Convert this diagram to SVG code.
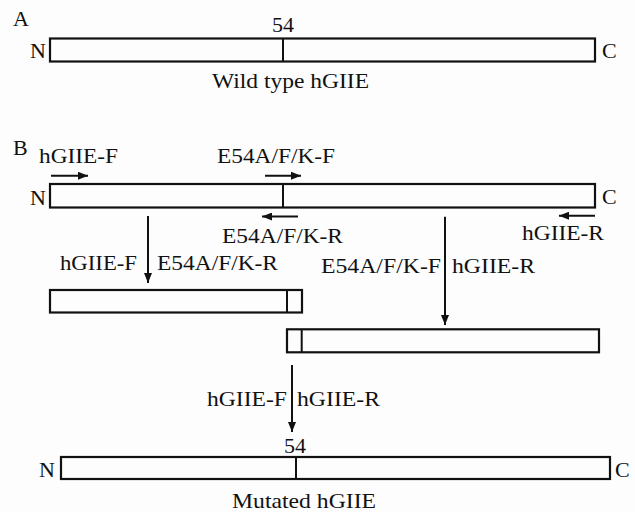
<svg xmlns="http://www.w3.org/2000/svg" width="635" height="512" viewBox="0 0 635 512">
<style>
text{font-family:"Liberation Serif","Times New Roman",serif;font-size:22px;fill:#111}
.bar{fill:#fdfdfd;stroke:#111;stroke-width:2.2}
.div{stroke:#111;stroke-width:2}
.conn{stroke:#111;stroke-width:2;fill:none}
</style>
<defs>
<marker id="ah" viewBox="0 0 10 8" refX="10" refY="4" markerWidth="10" markerHeight="8" markerUnits="userSpaceOnUse" orient="auto">
<path d="M0,0 L10,4 L0,8 z" fill="#111"/>
</marker>
</defs>
<rect width="635" height="512" fill="#fdfdfd"/>
<text x="13" y="26">A</text>
<text x="13" y="155">B</text>
<g id="wildtype">
<rect class="bar" x="50" y="38.5" width="545" height="23"/>
<line class="div" x1="283" y1="38.5" x2="283" y2="61.5"/>
<text x="283" y="32" text-anchor="middle">54</text>
<text x="30" y="57.5">N</text>
<text x="602" y="57.5">C</text>
<text x="212" y="88" textLength="157" lengthAdjust="spacingAndGlyphs">Wild type hGIIE</text>
</g>
<g id="template">
<rect class="bar" x="50" y="184" width="545" height="23.5"/>
<line class="div" x1="283" y1="184" x2="283" y2="207.5"/>
<text x="30" y="205">N</text>
<text x="602" y="204">C</text>
</g>
<g id="primers">
<text x="39" y="163" textLength="79" lengthAdjust="spacingAndGlyphs">hGIIE-F</text>
<text x="217" y="163" textLength="118" lengthAdjust="spacingAndGlyphs">E54A/F/K-F</text>
<text x="222" y="243" textLength="121" lengthAdjust="spacingAndGlyphs">E54A/F/K-R</text>
<text x="522" y="240" textLength="82" lengthAdjust="spacingAndGlyphs">hGIIE-R</text>
</g>
<g id="fragment1">
<rect class="bar" x="50" y="290" width="252" height="22.5"/>
<line class="div" x1="287" y1="290" x2="287" y2="312.5"/>
</g>
<g id="fragment2">
<rect class="bar" x="287" y="329.3" width="312" height="23"/>
<line class="div" x1="301.7" y1="329.3" x2="301.7" y2="352.3"/>
</g>
<g id="mutated">
<rect class="bar" x="61" y="457" width="549" height="22"/>
<line class="div" x1="296" y1="457" x2="296" y2="479"/>
<text x="295" y="453" text-anchor="middle">54</text>
<text x="39" y="477">N</text>
<text x="615" y="477">C</text>
<text x="232" y="508" textLength="144" lengthAdjust="spacingAndGlyphs">Mutated hGIIE</text>
</g>
<g id="connectors">
<line class="conn" x1="51" y1="175.7" x2="88" y2="175.7" marker-end="url(#ah)"/>
<line class="conn" x1="265" y1="175.7" x2="301" y2="175.7" marker-end="url(#ah)"/>
<line class="conn" x1="298" y1="216.5" x2="262" y2="216.5" marker-end="url(#ah)"/>
<line class="conn" x1="595" y1="215.7" x2="559" y2="215.7" marker-end="url(#ah)"/>
<line class="conn" x1="148" y1="216" x2="148" y2="283" marker-end="url(#ah)"/>
<line class="conn" x1="445" y1="216.7" x2="445" y2="325" marker-end="url(#ah)"/>
<line class="conn" x1="292" y1="365" x2="292" y2="432" marker-end="url(#ah)"/>
<text x="60" y="270" textLength="77" lengthAdjust="spacingAndGlyphs">hGIIE-F</text>
<text x="157" y="270" textLength="121" lengthAdjust="spacingAndGlyphs">E54A/F/K-R</text>
<text x="321" y="273" textLength="120" lengthAdjust="spacingAndGlyphs">E54A/F/K-F</text>
<text x="452" y="273" textLength="83" lengthAdjust="spacingAndGlyphs">hGIIE-R</text>
<text x="207" y="406" textLength="80" lengthAdjust="spacingAndGlyphs">hGIIE-F</text>
<text x="297" y="406" textLength="83" lengthAdjust="spacingAndGlyphs">hGIIE-R</text>
</g>
</svg>
